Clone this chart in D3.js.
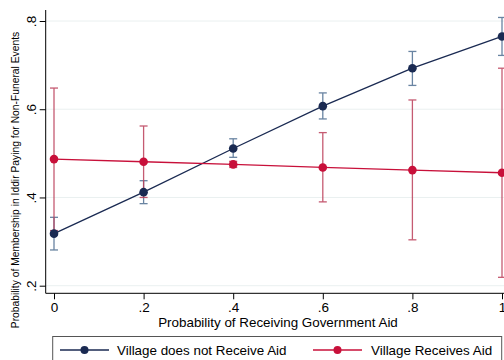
<!DOCTYPE html>
<html>
<head>
<meta charset="utf-8">
<script src="https://cdn.jsdelivr.net/npm/d3@7/dist/d3.min.js"></script>
<style>
  html, body { margin: 0; padding: 0; background: #fff; }
  svg { display: block; font-family: "Liberation Sans", Arial, Helvetica, sans-serif; }
</style>
</head>
<body>
<svg id="chart" width="504" height="360"></svg>
<script>
// Probability of receiving government aid (x values)
const aidProb = [0, 0.2, 0.4, 0.6, 0.8, 1];

// Village does not receive aid: predicted probability and 95% CI
const noAidMean = [0.318, 0.412, 0.511, 0.607, 0.693, 0.765];
const noAidLow  = [0.281, 0.386, 0.491, 0.578, 0.654, 0.722];
const noAidHigh = [0.355, 0.438, 0.533, 0.637, 0.731, 0.808];

// Village receives aid: predicted probability and 95% CI
const aidMean = [0.487, 0.481, 0.475, 0.468, 0.462, 0.456];
const aidLow  = [0.325, 0.400, 0.468, 0.390, 0.304, 0.219];
const aidHigh = [0.648, 0.562, 0.482, 0.547, 0.621, 0.693];

const xTicks = [0, 0.2, 0.4, 0.6, 0.8, 1];
const xTickLabels = ["0", ".2", ".4", ".6", ".8", "1"];
const yTicks = [0.2, 0.4, 0.6, 0.8];
const yTickLabels = [".2", ".4", ".6", ".8"];

const seriesNames = ["Village does not Receive Aid", "Village Receives Aid"];

const svg = d3.select("#chart");

const x = d3.scaleLinear().domain([0, 1]).range([54, 502]);
const y = d3.scaleLinear().domain([0.2, 0.8]).range([285.7, 21]);

const plotLeft = 45.7, plotBottom = 293.3, plotTop = 10, plotRight = 504;
const tickFont = 13.5;

// horizontal grid lines
svg.append("g").selectAll("line").data(yTicks).join("line")
  .attr("x1", plotLeft).attr("x2", plotRight)
  .attr("y1", d => y(d)).attr("y2", d => y(d))
  .attr("stroke", "#eaf0f0").attr("stroke-width", 1);

// axes
const xAxis = d3.axisBottom(x).tickValues(xTicks)
  .tickFormat((d, i) => xTickLabels[i]).tickSize(6).tickSizeOuter(0);
const gx = svg.append("g").attr("transform", `translate(0,${plotBottom})`).call(xAxis);
gx.select(".domain").attr("d", `M${plotLeft},0H${plotRight}`).attr("stroke", "#000");
gx.selectAll(".tick line").attr("stroke", "#000");
gx.selectAll(".tick text").attr("font-size", tickFont).attr("fill", "#000")
  .attr("font-family", "Liberation Sans, Arial, sans-serif").attr("dy", "0.71em").attr("y", 9);

const yAxis = d3.axisLeft(y).tickValues(yTicks)
  .tickFormat((d, i) => yTickLabels[i]).tickSize(6).tickSizeOuter(0);
const gy = svg.append("g").attr("transform", `translate(${plotLeft},0)`).call(yAxis);
gy.select(".domain").attr("d", `M0,${plotTop}V${plotBottom}`).attr("stroke", "#000");
gy.selectAll(".tick line").attr("stroke", "#000");
gy.selectAll(".tick text")
  .attr("font-size", tickFont).attr("fill", "#000")
  .attr("font-family", "Liberation Sans, Arial, sans-serif")
  .attr("x", null).attr("dy", null)
  .attr("text-anchor", "middle")
  .attr("transform", "translate(-10,0) rotate(-90)");

// axis titles
svg.append("text")
  .attr("x", 278).attr("y", 327)
  .attr("text-anchor", "middle").attr("font-size", 13.4).attr("fill", "#000")
  .text("Probability of Receiving Government Aid");

svg.append("text")
  .attr("transform", "translate(19,180) rotate(-90)")
  .attr("text-anchor", "middle").attr("font-size", 10.3).attr("fill", "#000")
  .text("Probability of Membership in Iddir Paying for Non-Funeral Events");

// series definitions
const series = [
  { mean: noAidMean, low: noAidLow, high: noAidHigh, line: "#1a2a52", ci: "#4f6f92" },
  { mean: aidMean, low: aidLow, high: aidHigh, line: "#c8103a", ci: "#bc3f5a" }
];

const line = d3.line().x((d, i) => x(aidProb[i])).y(d => y(d));
const cap = 4;

series.forEach(s => {
  const g = svg.append("g");
  // confidence intervals
  const ci = g.append("g").attr("stroke", s.ci).attr("stroke-width", 1.3).attr("fill", "none").attr("opacity", 0.85);
  aidProb.forEach((p, i) => {
    ci.append("line").attr("x1", x(p)).attr("x2", x(p)).attr("y1", y(s.low[i])).attr("y2", y(s.high[i]));
    ci.append("line").attr("x1", x(p) - cap).attr("x2", x(p) + cap).attr("y1", y(s.low[i])).attr("y2", y(s.low[i]));
    ci.append("line").attr("x1", x(p) - cap).attr("x2", x(p) + cap).attr("y1", y(s.high[i])).attr("y2", y(s.high[i]));
  });
});

series.forEach(s => {
  const g = svg.append("g");
  g.append("path").datum(s.mean).attr("d", line)
    .attr("fill", "none").attr("stroke", s.line).attr("stroke-width", 1.3);
  g.selectAll("circle").data(s.mean).join("circle")
    .attr("cx", (d, i) => x(aidProb[i])).attr("cy", d => y(d)).attr("r", 4.3)
    .attr("fill", s.line);
});

// legend
const lg = svg.append("g");
lg.append("rect").attr("x", 52.7).attr("y", 336.5).attr("width", 449).attr("height", 40)
  .attr("fill", "#fff").attr("stroke", "#555").attr("stroke-width", 1);
const legendItems = [
  { x0: 60, x1: 109, tx: 117, color: series[0].line, name: seriesNames[0] },
  { x0: 313, x1: 362, tx: 371, color: series[1].line, name: seriesNames[1] }
];
legendItems.forEach(it => {
  lg.append("line").attr("x1", it.x0).attr("x2", it.x1).attr("y1", 350).attr("y2", 350)
    .attr("stroke", it.color).attr("stroke-width", 1.3);
  lg.append("circle").attr("cx", (it.x0 + it.x1) / 2).attr("cy", 350).attr("r", 4).attr("fill", it.color);
  lg.append("text").attr("x", it.tx).attr("y", 355).attr("font-size", 13.4).attr("fill", "#000").text(it.name);
});
</script>
</body>
</html>
